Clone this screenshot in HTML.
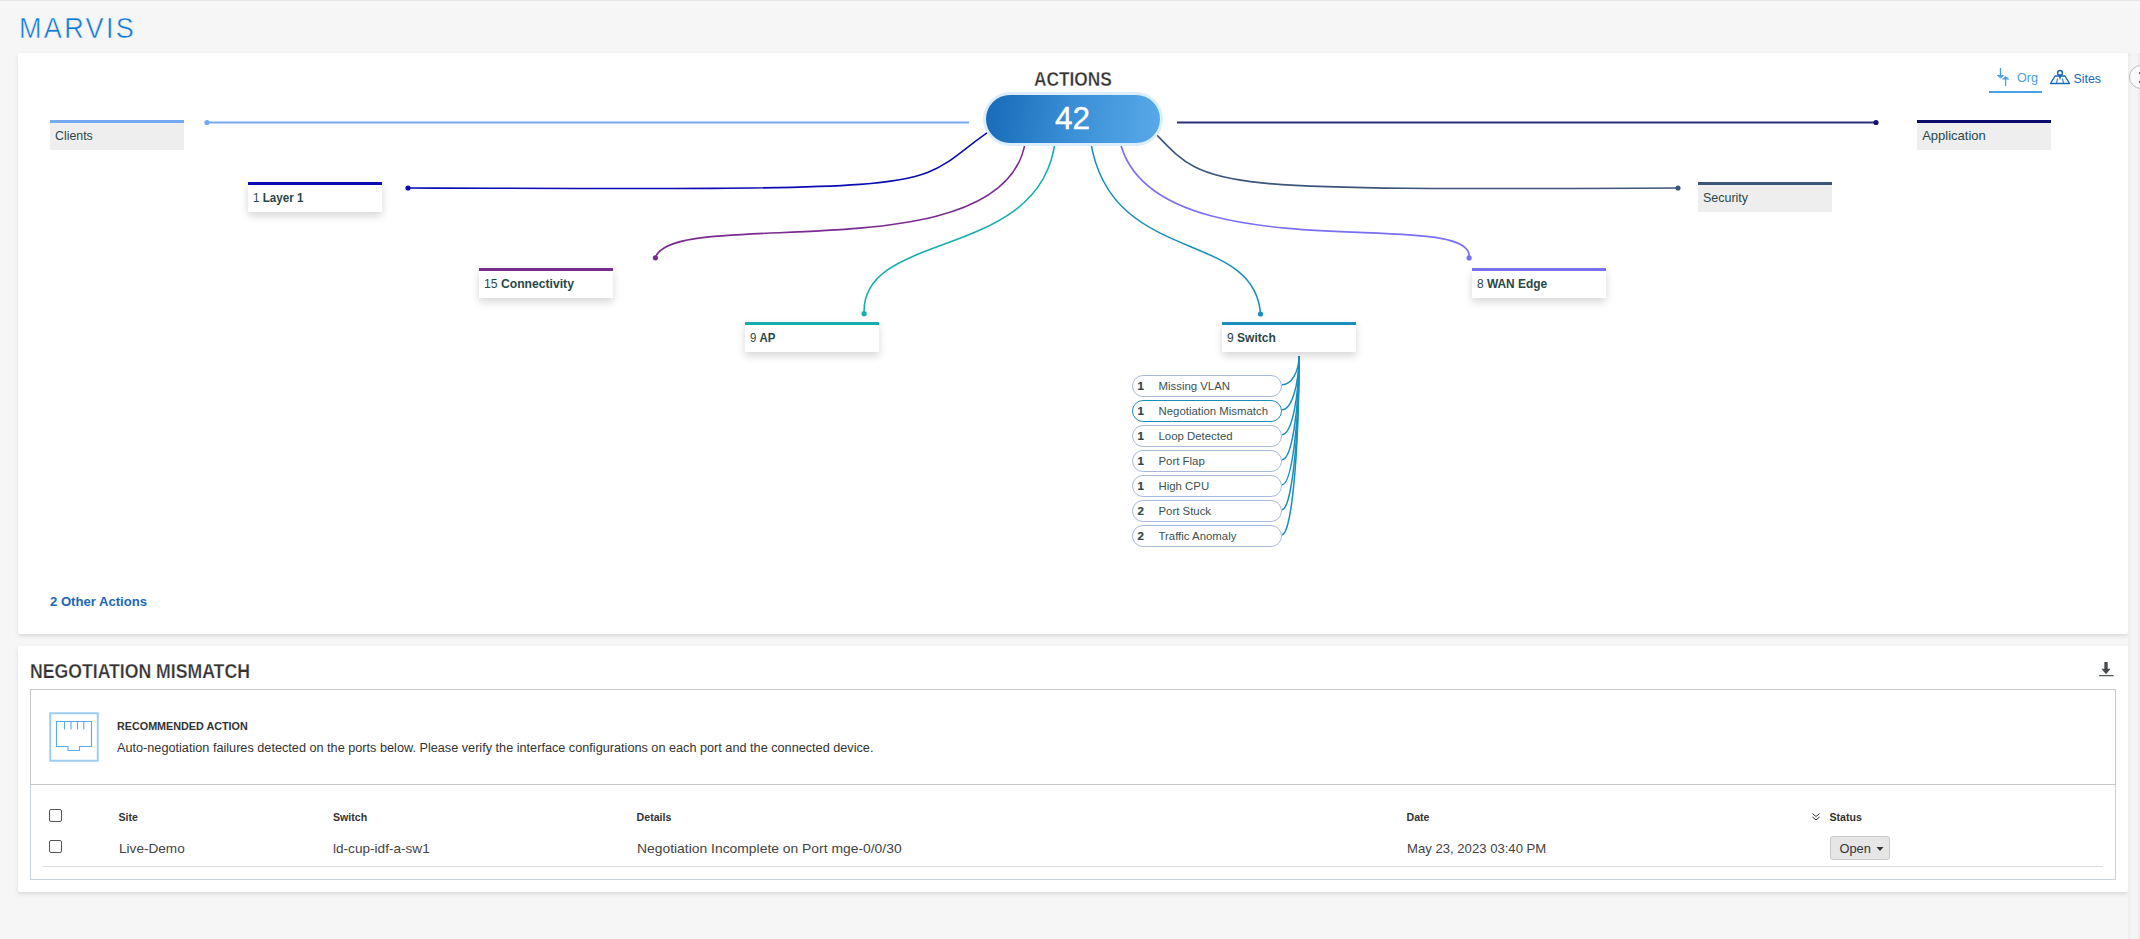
<!DOCTYPE html>
<html><head><meta charset="utf-8"><title>Marvis Actions</title>
<style>
html,body{margin:0;padding:0}
body{width:2140px;height:939px;overflow:hidden;position:relative;background:#f6f6f6;font-family:"Liberation Sans", sans-serif;}
.card{position:absolute;background:#fff;border-radius:2px;box-shadow:0 2px 4px rgba(0,0,0,0.12)}
.t{position:absolute;white-space:nowrap;line-height:1}
.t b{font-weight:bold}
</style></head><body>
<div style="position:absolute;left:0;top:0;width:2140px;height:1px;background:#e9e9e9"></div>
<div class="card" style="left:18px;top:53px;width:2110px;height:581px"></div>
<div class="card" style="left:18px;top:646px;width:2110px;height:246px"></div>
<div style="position:absolute;left:2128px;top:53px;width:12px;height:886px;background:linear-gradient(90deg,#ececec 0,#f4f4f4 4px,#f5f5f5 9px,#e9e9e9 12px)"></div>
<div style="position:absolute;left:2129px;top:65px;width:24px;height:24px;border-radius:50%;border:1px solid #bdbdbd;background:#fafafa;box-sizing:border-box"></div>
<div style="position:absolute;left:2139px;top:72px;width:2px;height:2px;background:#666"></div>
<div style="position:absolute;left:2139px;top:81px;width:2px;height:2px;background:#666"></div>
<div class="t" style="left:18.50px;top:13.11px;font-size:30px;font-weight:normal;color:#0f7ad6;transform:scaleX(0.9);transform-origin:0 0;letter-spacing:2.6px;-webkit-text-stroke:0.5px #f6f6f6;">MARVIS</div>
<svg style="position:absolute;left:0;top:0" width="2140" height="939" viewBox="0 0 2140 939"><path d="M207 122.5 H969" stroke="#74aaf2" stroke-width="2" fill="none"/><circle cx="207" cy="122.5" r="2.6" fill="#74aaf2"/><path d="M1177 122.5 H1876" stroke="#2e2e7c" stroke-width="2" fill="none"/><circle cx="1876" cy="122.5" r="2.6" fill="#131371"/><path d="M1003.4 121.9 C894.6 190.7 1005 189.9 408 188" stroke="#0b0bb3" stroke-width="1.6" fill="none"/><circle cx="408" cy="188" r="2.6" fill="#0b0bb3"/><path d="M1025.5 140 C1008.2 275.1 670.6 204.9 655.4 257.8" stroke="#7a2b8e" stroke-width="1.6" fill="none"/><circle cx="655.4" cy="257.8" r="2.6" fill="#7a2b8e"/><path d="M1055.3 140 C1041.7 262.6 860.4 228.6 864.1 313.7" stroke="#17adae" stroke-width="1.6" fill="none"/><circle cx="864.1" cy="313.7" r="2.6" fill="#17adae"/><path d="M1090.4 140 C1109.5 267.4 1254.6 227.6 1260.5 314" stroke="#1a8fbb" stroke-width="1.6" fill="none"/><circle cx="1260.5" cy="314" r="2.6" fill="#1a8fbb"/><path d="M1119.6 140 C1149.6 276.7 1477.3 203.9 1469.1 257.9" stroke="#7b6ff4" stroke-width="1.6" fill="none"/><circle cx="1469.1" cy="257.9" r="2.6" fill="#7b6ff4"/><path d="M1150 128 C1210.3 189.5 1187.1 190.2 1678 188" stroke="#3c567a" stroke-width="1.6" fill="none"/><circle cx="1678" cy="188" r="2.6" fill="#3c567a"/><path d="M1299 356 V366" stroke="#1a8fbb" stroke-width="1.8" fill="none"/><path d="M1282 384.70 A17 28.70 0 0 0 1299 356" stroke="#1a8fbb" stroke-width="1.5" fill="none"/><path d="M1282 409.70 A17 53.70 0 0 0 1299 356" stroke="#1a8fbb" stroke-width="1.5" fill="none"/><path d="M1282 434.70 A17 78.70 0 0 0 1299 356" stroke="#1a8fbb" stroke-width="1.5" fill="none"/><path d="M1282 459.70 A17 103.70 0 0 0 1299 356" stroke="#1a8fbb" stroke-width="1.5" fill="none"/><path d="M1282 484.70 A17 128.70 0 0 0 1299 356" stroke="#1a8fbb" stroke-width="1.5" fill="none"/><path d="M1282 509.70 A17 153.70 0 0 0 1299 356" stroke="#1a8fbb" stroke-width="1.5" fill="none"/><path d="M1282 534.70 A17 178.70 0 0 0 1299 356" stroke="#1a8fbb" stroke-width="1.5" fill="none"/></svg>
<div style="position:absolute;left:983px;top:92px;width:180px;height:54px;border-radius:27px;background:#dcedfb;"></div>
<div style="position:absolute;left:986px;top:94.6px;width:174px;height:48.5px;border-radius:25px;background:linear-gradient(100deg,#166ab7 0%,#3a8fd6 50%,#58aae9 100%);"></div>
<div class="t" style="left:1055.00px;top:102.94px;font-size:31.5px;font-weight:normal;color:#ffffff;-webkit-text-stroke:0.4px #fff;">42</div>
<div class="t" style="left:1033.50px;top:68.57px;font-size:20px;font-weight:bold;color:#333333;transform:scaleX(0.865);transform-origin:0 0;-webkit-text-stroke:0.3px #fff;">ACTIONS</div>
<div style="position:absolute;left:50px;top:120px;width:134px;height:30px;background:#eeeeee;"></div>
<div style="position:absolute;left:50px;top:120px;width:134px;height:3px;background:#74aaf2"></div>
<div class="t" style="left:55.20px;top:129.00px;font-size:13px;font-weight:normal;color:#2a4747;transform:scaleX(0.95);transform-origin:0 0;">Clients</div>
<div style="position:absolute;left:248px;top:182px;width:134px;height:30px;background:#ffffff;box-shadow:0 4px 8px rgba(0,0,0,0.16);"></div>
<div style="position:absolute;left:248px;top:182px;width:134px;height:3px;background:#0b0bb3"></div>
<div class="t" style="left:253.20px;top:191.00px;font-size:13px;font-weight:normal;color:#2a4747;transform:scaleX(0.896);transform-origin:0 0;">1 <b>Layer 1</b></div>
<div style="position:absolute;left:479px;top:268px;width:134px;height:30px;background:#ffffff;box-shadow:0 4px 8px rgba(0,0,0,0.16);"></div>
<div style="position:absolute;left:479px;top:268px;width:134px;height:3px;background:#7a2b8e"></div>
<div class="t" style="left:484.20px;top:277.00px;font-size:13px;font-weight:normal;color:#2a4747;transform:scaleX(0.936);transform-origin:0 0;">15 <b>Connectivity</b></div>
<div style="position:absolute;left:745px;top:322px;width:134px;height:30px;background:#ffffff;box-shadow:0 4px 8px rgba(0,0,0,0.16);"></div>
<div style="position:absolute;left:745px;top:322px;width:134px;height:3px;background:#17adae"></div>
<div class="t" style="left:750.20px;top:331.00px;font-size:13px;font-weight:normal;color:#2a4747;transform:scaleX(0.88);transform-origin:0 0;">9 <b>AP</b></div>
<div style="position:absolute;left:1222px;top:322px;width:134px;height:30px;background:#ffffff;box-shadow:0 4px 8px rgba(0,0,0,0.16);"></div>
<div style="position:absolute;left:1222px;top:322px;width:134px;height:3px;background:#1a8fbb"></div>
<div class="t" style="left:1227.20px;top:331.00px;font-size:13px;font-weight:normal;color:#2a4747;transform:scaleX(0.925);transform-origin:0 0;">9 <b>Switch</b></div>
<div style="position:absolute;left:1472px;top:268px;width:134px;height:30px;background:#ffffff;box-shadow:0 4px 8px rgba(0,0,0,0.16);"></div>
<div style="position:absolute;left:1472px;top:268px;width:134px;height:3px;background:#7b6ff4"></div>
<div class="t" style="left:1477.20px;top:277.00px;font-size:13px;font-weight:normal;color:#2a4747;transform:scaleX(0.916);transform-origin:0 0;">8 <b>WAN Edge</b></div>
<div style="position:absolute;left:1698px;top:182px;width:134px;height:30px;background:#eeeeee;"></div>
<div style="position:absolute;left:1698px;top:182px;width:134px;height:3px;background:#3c567a"></div>
<div class="t" style="left:1703.20px;top:191.00px;font-size:13px;font-weight:normal;color:#2a4747;transform:scaleX(0.96);transform-origin:0 0;">Security</div>
<div style="position:absolute;left:1917px;top:120px;width:134px;height:30px;background:#eeeeee;"></div>
<div style="position:absolute;left:1917px;top:120px;width:134px;height:3px;background:#0b0b6e"></div>
<div class="t" style="left:1922.20px;top:129.00px;font-size:13px;font-weight:normal;color:#2a4747;">Application</div>
<div style="position:absolute;left:1132px;top:375.10px;width:150px;height:21.5px;border:1px solid #a9b9dc;border-radius:11px;background:#fff;box-sizing:border-box"></div>
<div class="t" style="left:1137.50px;top:381.37px;font-size:11.5px;font-weight:bold;color:#2a4747;-webkit-text-stroke:0.2px #2a4747;">1</div>
<div class="t" style="left:1158.50px;top:381.45px;font-size:11.4px;font-weight:normal;color:#3a5252;">Missing VLAN</div>
<div style="position:absolute;left:1132px;top:400.10px;width:150px;height:21.5px;border:1.5px solid #1a8fbb;border-radius:11px;background:#fff;box-sizing:border-box"></div>
<div class="t" style="left:1137.50px;top:406.37px;font-size:11.5px;font-weight:bold;color:#2a4747;-webkit-text-stroke:0.2px #2a4747;">1</div>
<div class="t" style="left:1158.50px;top:406.45px;font-size:11.4px;font-weight:normal;color:#3a5252;">Negotiation Mismatch</div>
<div style="position:absolute;left:1132px;top:425.10px;width:150px;height:21.5px;border:1px solid #a9b9dc;border-radius:11px;background:#fff;box-sizing:border-box"></div>
<div class="t" style="left:1137.50px;top:431.37px;font-size:11.5px;font-weight:bold;color:#2a4747;-webkit-text-stroke:0.2px #2a4747;">1</div>
<div class="t" style="left:1158.50px;top:431.45px;font-size:11.4px;font-weight:normal;color:#3a5252;">Loop Detected</div>
<div style="position:absolute;left:1132px;top:450.10px;width:150px;height:21.5px;border:1px solid #a9b9dc;border-radius:11px;background:#fff;box-sizing:border-box"></div>
<div class="t" style="left:1137.50px;top:456.37px;font-size:11.5px;font-weight:bold;color:#2a4747;-webkit-text-stroke:0.2px #2a4747;">1</div>
<div class="t" style="left:1158.50px;top:456.45px;font-size:11.4px;font-weight:normal;color:#3a5252;">Port Flap</div>
<div style="position:absolute;left:1132px;top:475.10px;width:150px;height:21.5px;border:1px solid #a9b9dc;border-radius:11px;background:#fff;box-sizing:border-box"></div>
<div class="t" style="left:1137.50px;top:481.37px;font-size:11.5px;font-weight:bold;color:#2a4747;-webkit-text-stroke:0.2px #2a4747;">1</div>
<div class="t" style="left:1158.50px;top:481.45px;font-size:11.4px;font-weight:normal;color:#3a5252;">High CPU</div>
<div style="position:absolute;left:1132px;top:500.10px;width:150px;height:21.5px;border:1px solid #a9b9dc;border-radius:11px;background:#fff;box-sizing:border-box"></div>
<div class="t" style="left:1137.50px;top:506.37px;font-size:11.5px;font-weight:bold;color:#2a4747;-webkit-text-stroke:0.2px #2a4747;">2</div>
<div class="t" style="left:1158.50px;top:506.45px;font-size:11.4px;font-weight:normal;color:#3a5252;">Port Stuck</div>
<div style="position:absolute;left:1132px;top:525.10px;width:150px;height:21.5px;border:1px solid #a9b9dc;border-radius:11px;background:#fff;box-sizing:border-box"></div>
<div class="t" style="left:1137.50px;top:531.37px;font-size:11.5px;font-weight:bold;color:#2a4747;-webkit-text-stroke:0.2px #2a4747;">2</div>
<div class="t" style="left:1158.50px;top:531.45px;font-size:11.4px;font-weight:normal;color:#3a5252;">Traffic Anomaly</div>
<div style="position:absolute;left:1989px;top:91px;width:53px;height:2px;background:#4a9fe6"></div>
<svg style="position:absolute;left:1995px;top:66px" width="16" height="22" viewBox="0 0 16 22"><path d="M5.5 2 V10" stroke="#4aa0e6" stroke-width="1.3"/><path d="M2.5 9.5 L5.5 12 L8.5 9.5 Z" fill="#4aa0e6" stroke="#4aa0e6" stroke-width="1"/><path d="M10.6 12 V20" stroke="#4aa0e6" stroke-width="1.3"/><path d="M7.6 13 L10.6 10.5 L13.6 13 Z" fill="#4aa0e6" stroke="#4aa0e6" stroke-width="1"/></svg>
<div class="t" style="left:2017.00px;top:72.43px;font-size:12.6px;font-weight:normal;color:#4aa0e6;">Org</div>
<svg style="position:absolute;left:2049px;top:69px" width="22" height="16" viewBox="0 0 22 16"><path d="M1.5 14.5 L6 7 H16 L20.5 14.5 Z" stroke="#1a68b8" stroke-width="1.4" fill="none" stroke-linejoin="round"/><path d="M7.5 14.5 L8.5 9.5 M14.5 14.5 L13.5 9.5" stroke="#1a68b8" stroke-width="1"/><circle cx="11" cy="4" r="2.4" stroke="#1a68b8" stroke-width="1.5" fill="none"/><path d="M9.3 5.5 L11 11.5 L12.7 5.5" fill="#1a68b8"/></svg>
<div class="t" style="left:2073.50px;top:72.60px;font-size:12.4px;font-weight:normal;color:#1a68b8;">Sites</div>
<div class="t" style="left:50.00px;top:594.91px;font-size:13.1px;font-weight:bold;color:#1a68b8;">2 Other Actions</div>
<div class="t" style="left:30.30px;top:661.42px;font-size:20.3px;font-weight:bold;color:#333333;transform:scaleX(0.87);transform-origin:0 0;-webkit-text-stroke:0.25px #fff;">NEGOTIATION MISMATCH</div>
<svg style="position:absolute;left:2099px;top:660px" width="16" height="18" viewBox="0 0 16 18"><path d="M7 2 V9.5" stroke="#464a4d" stroke-width="3.3"/><path d="M2.4 8.7 H11.6 L7 14.2 Z" fill="#464a4d"/><path d="M0.2 15.6 H14.6" stroke="#555a5d" stroke-width="1.3"/></svg>
<div style="position:absolute;left:30px;top:689px;width:2086px;height:96px;border:1px solid #c8c8c8;box-sizing:border-box"></div>
<div style="position:absolute;left:30px;top:785px;width:2086px;height:95px;border:1px solid #c6d2dc;border-top:none;box-sizing:border-box"></div>
<svg style="position:absolute;left:49px;top:712px" width="50" height="50" viewBox="0 0 50 50"><rect x="1.25" y="1.25" width="47.5" height="47.5" stroke="#9fcdf2" stroke-width="2" fill="none"/><path d="M7.5 9.5 H42.5 V34.5 H30.5 V38.5 H19 V34.5 H7.5 Z" stroke="#5aaae8" stroke-width="1.1" fill="none"/><path d="M15.5 9.5 V17.5 M22 9.5 V17.5 M28.5 9.5 V17.5 M34.8 9.5 V17.5" stroke="#5aaae8" stroke-width="1.1"/></svg>
<div class="t" style="left:117.00px;top:720.59px;font-size:11px;font-weight:bold;color:#333333;transform:scaleX(0.98);transform-origin:0 0;">RECOMMENDED ACTION</div>
<div class="t" style="left:117.00px;top:742.22px;font-size:12.5px;font-weight:normal;color:#333333;transform:scaleX(1.0145);transform-origin:0 0;">Auto-negotiation failures detected on the ports below. Please verify the interface configurations on each port and the connected device.</div>
<div style="position:absolute;left:49px;top:809px;width:12.5px;height:12.5px;border:1.3px solid #555;border-radius:2px;box-sizing:border-box;background:#fff"></div>
<div style="position:absolute;left:49px;top:840.2px;width:12.5px;height:12.5px;border:1.3px solid #555;border-radius:2px;box-sizing:border-box;background:#fff"></div>
<div class="t" style="left:118.50px;top:812.33px;font-size:10.6px;font-weight:bold;color:#333333;">Site</div>
<div class="t" style="left:333.00px;top:812.33px;font-size:10.6px;font-weight:bold;color:#333333;">Switch</div>
<div class="t" style="left:636.60px;top:812.33px;font-size:10.6px;font-weight:bold;color:#333333;">Details</div>
<div class="t" style="left:1406.50px;top:812.33px;font-size:10.6px;font-weight:bold;color:#333333;">Date</div>
<div class="t" style="left:1829.50px;top:812.33px;font-size:10.6px;font-weight:bold;color:#333333;">Status</div>
<svg style="position:absolute;left:1811px;top:812px" width="10" height="10" viewBox="0 0 10 10"><path d="M1.5 1.5 L5 4.5 L8.5 1.5 M1.5 5 L5 8 L8.5 5" stroke="#333" stroke-width="1" fill="none"/></svg>
<div class="t" style="left:119.00px;top:841.79px;font-size:13.6px;font-weight:normal;color:#444444;">Live-Demo</div>
<div class="t" style="left:333.00px;top:841.79px;font-size:13.6px;font-weight:normal;color:#444444;">ld-cup-idf-a-sw1</div>
<div class="t" style="left:636.50px;top:841.79px;font-size:13.6px;font-weight:normal;color:#444444;transform:scaleX(1.021);transform-origin:0 0;">Negotiation Incomplete on Port mge-0/0/30</div>
<div class="t" style="left:1406.50px;top:841.79px;font-size:13.6px;font-weight:normal;color:#444444;transform:scaleX(0.965);transform-origin:0 0;">May 23, 2023 03:40 PM</div>
<div style="position:absolute;left:1830px;top:836px;width:59.5px;height:23.5px;background:#e6e6e6;border:1px solid #c9c9c9;border-radius:3px;box-sizing:border-box"></div>
<div class="t" style="left:1839.50px;top:843.06px;font-size:12.8px;font-weight:normal;color:#333333;">Open</div>
<svg style="position:absolute;left:1876px;top:846px" width="9" height="6" viewBox="0 0 9 6"><path d="M0.5 1 H7.5 L4 5 Z" fill="#333"/></svg>
<div style="position:absolute;left:43px;top:866px;width:2060px;height:1px;background:#dedede"></div>
</body></html>
